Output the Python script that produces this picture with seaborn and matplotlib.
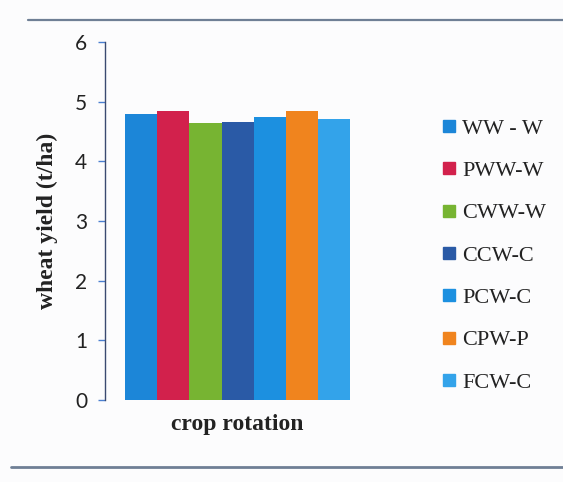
import matplotlib
matplotlib.use("Agg")
import matplotlib.pyplot as plt
import matplotlib.lines as mlines
import seaborn as sns
import pandas as pd

rotations = ["WW - W", "PWW-W", "CWW-W", "CCW-C", "PCW-C", "CPW-P", "FCW-C"]
yields = [4.79, 4.85, 4.64, 4.66, 4.74, 4.85, 4.71]
colors = ["#1c86d8", "#d2214c", "#77b432", "#2a5aa6", "#1c90e0", "#f0841e", "#33a3ea"]
y_ticks = [0, 1, 2, 3, 4, 5, 6]

df = pd.DataFrame({"group": ["crop rotation"] * len(rotations),
                   "rotation": rotations, "yield": yields})

sns.set_theme(style="white")
plt.rcParams["font.family"] = ["DejaVu Sans"]

fig = plt.figure(figsize=(5.63, 4.82), dpi=100, facecolor="#fcfcfd")
ax = fig.add_axes([0.187, 0.170, 0.470, 0.743])
ax.set_facecolor("none")

sns.barplot(data=df, x="group", y="yield", hue="rotation", hue_order=rotations,
            palette=colors, width=0.8, gap=0, saturation=1, ax=ax,
            legend=False, errorbar=None, linewidth=0)

ax.set_xlim(-0.471, 0.471)
ax.set_ylim(0, 6)
ax.set_yticks(y_ticks)
ax.set_yticklabels([str(t) for t in y_ticks], fontsize=15, family="Lato", color="#222222")
ax.set_xticks([])
for s in ["top", "right", "bottom"]:
    ax.spines[s].set_visible(False)
ax.spines["left"].set_color("#3a4a70")
ax.spines["left"].set_linewidth(1.0)
ax.tick_params(axis="y", which="major", direction="out", length=5, width=1,
               color="#4a7fd0", pad=8, left=True)

ax.set_ylabel("wheat yield (t/ha)", fontsize=17, fontweight="bold",
              family="Liberation Serif", color="#222222", labelpad=12)
ax.set_xlabel("crop rotation", fontsize=17, fontweight="bold",
              family="Liberation Serif", color="#222222", labelpad=10)

handles = [mlines.Line2D([], [], linestyle="none", marker="s", markersize=8,
                         markerfacecolor=c, markeredgecolor=c) for c in colors]
fig.legend(handles, rotations, loc="center left", bbox_to_anchor=(0.75, 0.47),
           frameon=False, prop={"family": "Liberation Serif", "size": 16},
           handlelength=0.6, handletextpad=0.3, labelspacing=0.98,
           labelcolor="#222222")

# page rules from the scanned figure frame
fig.add_artist(mlines.Line2D([0.05, 1.0], [0.958, 0.958], color="#6f7f95",
                             linewidth=1.6, transform=fig.transFigure))
fig.add_artist(mlines.Line2D([0.02, 1.0], [0.032, 0.032], color="#6f7f95",
                             linewidth=2.0, transform=fig.transFigure))

fig.savefig("out.png", dpi=100, facecolor=fig.get_facecolor())
